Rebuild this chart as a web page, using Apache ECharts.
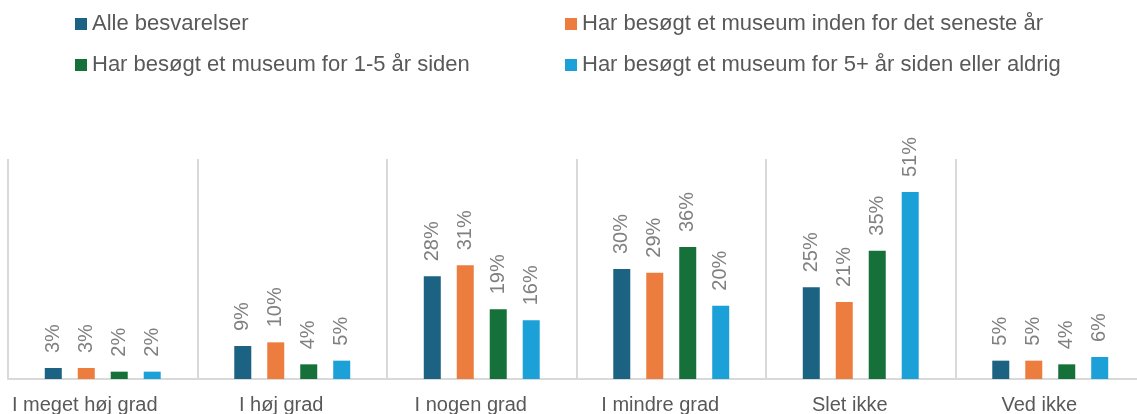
<!DOCTYPE html>
<html>
<head>
<meta charset="utf-8">
<script src="https://cdn.jsdelivr.net/npm/echarts@6/dist/echarts.min.js"></script>
<style>
    html, body { margin: 0; padding: 0; background: #fff; }
    #chart { width: 1137px; height: 414px; }
</style>
</head>
<body>
<div id="chart"></div>
<script>
    // kategorier og serier
    const categories = ['I meget høj grad', 'I høj grad', 'I nogen grad', 'I mindre grad', 'Slet ikke', 'Ved ikke']
    const seriesNames = [
        'Alle besvarelser',
        'Har besøgt et museum inden for det seneste år',
        'Har besøgt et museum for 1-5 år siden',
        'Har besøgt et museum for 5+ år siden eller aldrig'
    ]
    const alle = [3, 9, 28, 30, 25, 5]
    const senesteAar = [3, 10, 31, 29, 21, 5]
    const foer1til5 = [2, 4, 19, 36, 35, 4]
    const foer5plus = [2, 5, 16, 20, 51, 6]
    const colors = ['#1b6283', '#ed7d3e', '#167039', '#1ba0d7']

    const font = 'Arial, "Liberation Sans", sans-serif'

    let myChart = echarts.init(document.getElementById('chart'))

    const makeSeries = (name, data, color) => ({
        name: name,
        type: 'bar',
        data: data,
        barWidth: 17,
        barGap: '94%',
        itemStyle: { color: color },
        label: {
            show: true,
            position: 'top',
            rotate: 90,
            align: 'left',
            verticalAlign: 'middle',
            distance: 15,
            formatter: '{c}%',
            color: '#808080',
            fontSize: 20,
            fontFamily: font
        }
    })

    const legendBase = {
        orient: 'vertical',
        icon: 'rect',
        itemWidth: 12,
        itemHeight: 12,
        itemGap: 19,
        top: 8,
        textStyle: { color: '#595959', fontSize: 22, fontFamily: font, lineHeight: 22 }
    }

    // første etiket står lidt længere til venstre i originalen
    const axisData = categories.map((c, i) => i === 0 ? { value: c, textStyle: { padding: [0, 36, 0, 0] } } : c)

    let options = {
        animation: false,
        legend: [
            Object.assign({}, legendBase, { left: 70, data: [seriesNames[0], seriesNames[2]] }),
            Object.assign({}, legendBase, { left: 560, data: [seriesNames[1], seriesNames[3]] })
        ],
        grid: {
            left: 8,
            right: -8,
            top: 159,
            bottom: 35,
            outerBoundsMode: 'none',
            containLabel: false
        },
        xAxis: {
            type: 'category',
            data: axisData,
            axisTick: { show: false },
            axisLine: { lineStyle: { color: '#d9d9d9', width: 2 } },
            splitLine: { show: true, interval: 0, lineStyle: { color: '#d9d9d9', width: 2 } },
            axisLabel: {
                interval: 0,
                margin: 16,
                color: '#595959',
                fontSize: 20,
                fontFamily: font,
                padding: [0, 22, 0, 0]
            }
        },
        yAxis: {
            type: 'value',
            min: 0,
            max: 60,
            show: false,
            splitLine: { show: false }
        },
        series: [
            makeSeries(seriesNames[0], alle, colors[0]),
            makeSeries(seriesNames[1], senesteAar, colors[1]),
            makeSeries(seriesNames[2], foer1til5, colors[2]),
            makeSeries(seriesNames[3], foer5plus, colors[3])
        ]
    }

    myChart.setOption(options)
</script>
</body>
</html>
